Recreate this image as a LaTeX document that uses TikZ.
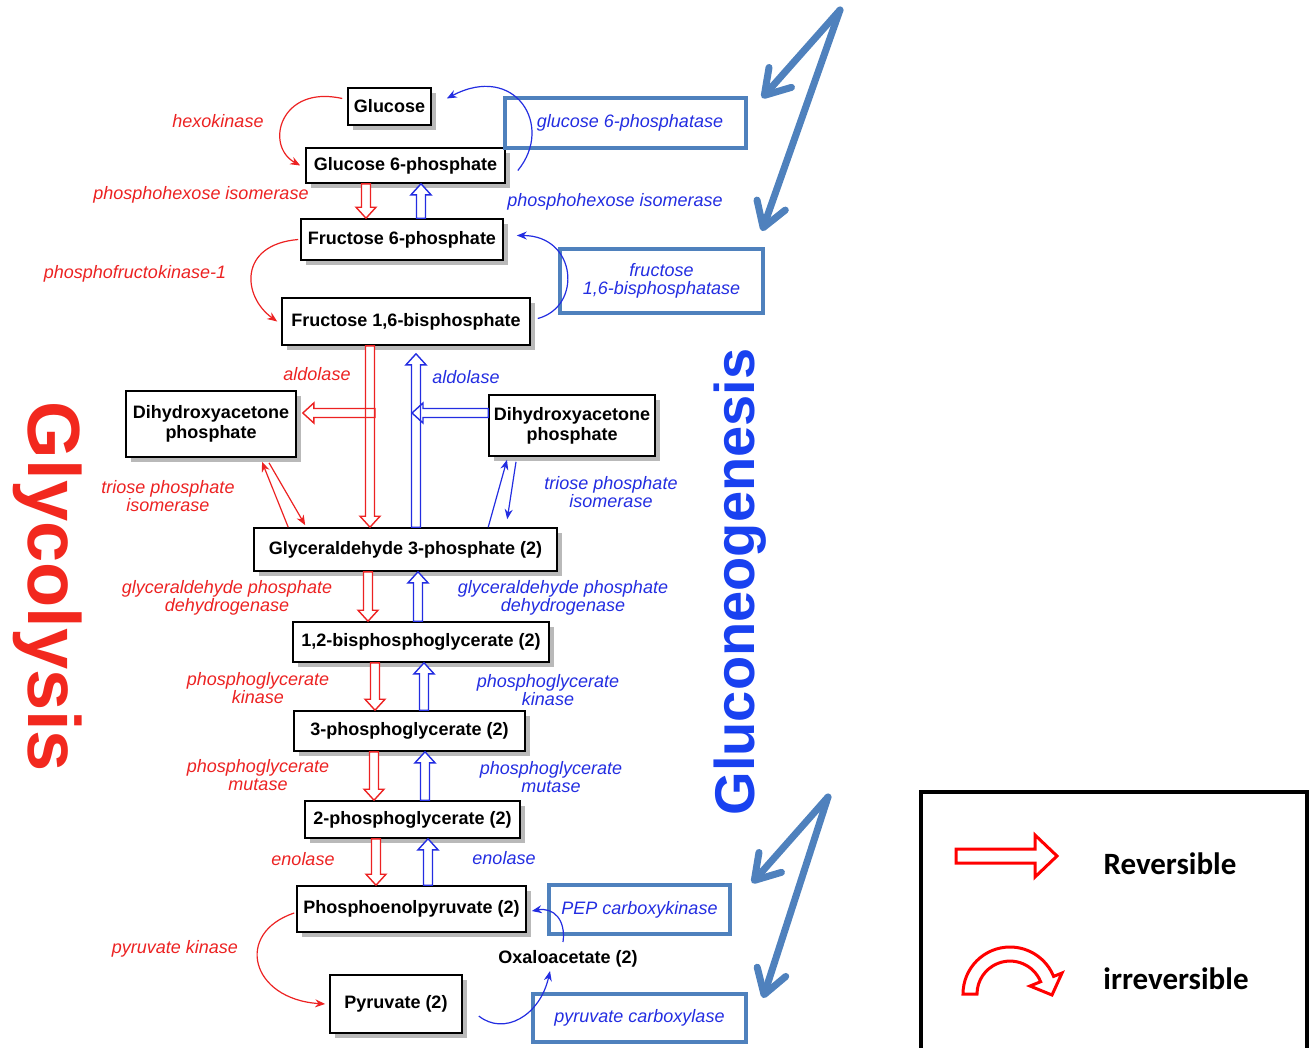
\documentclass[tikz,border=0pt]{standalone}
\usepackage{fontspec}
\setmainfont{Liberation Sans}
\newfontfamily\legendfont{Carlito}
\usetikzlibrary{arrows.meta,shadows,calc}
\definecolor{gred}{RGB}{236,34,34}
\definecolor{gblue}{RGB}{35,45,225}
\definecolor{steel}{RGB}{79,129,189}
\definecolor{titlered}{RGB}{242,40,30}
\definecolor{titleblue}{RGB}{25,65,240}
\definecolor{legred}{RGB}{255,0,0}

% vertical hollow block arrow: style, from, to
\newcommand{\vblk}[3]{%
  \draw[#1] let \p1=#2, \p2=#3, \n1={sign(\y1-\y2)} in
    (\x1-4.5pt,\y1) -- (\x1-4.5pt,{\y2+\n1*11pt}) -- (\x1-10pt,{\y2+\n1*11pt})
    -- (\x1,\y2) -- (\x1+10pt,{\y2+\n1*11pt}) -- (\x1+4.5pt,{\y2+\n1*11pt})
    -- (\x1+4.5pt,\y1) -- cycle;}
% horizontal hollow block arrow: style, from, to
\newcommand{\hblk}[3]{%
  \draw[#1] let \p1=#2, \p2=#3, \n1={sign(\x1-\x2)} in
    (\x1,\y1-4.5pt) -- ({\x2+\n1*11pt},\y1-4.5pt) -- ({\x2+\n1*11pt},\y1-10pt)
    -- (\x2,\y1) -- ({\x2+\n1*11pt},\y1+10pt) -- ({\x2+\n1*11pt},\y1+4.5pt)
    -- (\x1,\y1+4.5pt) -- cycle;}

\tikzset{
  box/.style={draw, line width=1.6pt, fill=white, inner sep=2pt, align=center,
    font=\bfseries\fontsize{18}{20}\selectfont,
    drop shadow={shadow xshift=5pt, shadow yshift=-5pt, fill=gray!55, opacity=1}},
  enzR/.style={text=gred, inner sep=0pt, align=center, font=\itshape\fontsize{18}{18.5}\selectfont},
  enzB/.style={text=gblue, inner sep=0pt, align=center, font=\itshape\fontsize{18}{18.5}\selectfont},
  ebox/.style={draw=steel, line width=4pt, inner sep=0pt, text=gblue, align=center,
    font=\itshape\fontsize{18}{18.5}\selectfont},
  revR/.style={draw=gred, line width=1.4pt, fill=white},
  revB/.style={draw=gblue, line width=1.4pt, fill=white},
  revRn/.style={draw=gred, line width=1.4pt},
  revBn/.style={draw=gblue, line width=1.4pt},
  irrR/.style={draw=gred, line width=1.2pt, -{Stealth[length=10pt,width=8pt]}},
  irrB/.style={draw=gblue, line width=1.2pt, -{Stealth[length=10pt,width=8pt]}},
  bigarr/.style={draw=steel, line width=7pt, line cap=round,
    -{Straight Barb[length=24pt,width=30pt,round]}},
  legtext/.style={font=\legendfont\bfseries\fontsize{31}{34}\selectfont, inner sep=0pt}
}

\begin{document}
\begin{tikzpicture}[x=1pt,y=-1pt]
\useasboundingbox (0,0) rectangle (1311,1047);

% titles
\node[text=titlered, rotate=-90, font=\bfseries\fontsize{74}{80}\selectfont] (glyco) at (48,587) {Glycolysis};
\node[text=titleblue, rotate=90, font=\bfseries\fontsize{56}{60}\selectfont] (gluco) at (740,582) {Gluconeogenesis};

% metabolite boxes
\node[box, minimum width=83pt, minimum height=37pt] (glc) at (389.5,106.5) {Glucose};
\node[box, minimum width=199pt, minimum height=35pt] (g6p) at (405.5,165.5) {Glucose 6-phosphate};
\node[box, minimum width=202pt, minimum height=41pt] (f6p) at (402,239.5) {Fructose 6-phosphate};
\node[box, minimum width=248pt, minimum height=47pt] (fbp) at (406,321.5) {Fructose 1,6-bisphosphate};
\node[box, minimum width=170pt, minimum height=66pt] (dhapL) at (211,424) {Dihydroxyacetone\\phosphate};
\node[box, minimum width=166pt, minimum height=61pt] (dhapR) at (572,425.5) {Dihydroxyacetone\\phosphate};
\node[box, minimum width=303pt, minimum height=43pt] (gap) at (405.5,549.5) {Glyceraldehyde 3-phosphate (2)};
\node[box, minimum width=256pt, minimum height=40pt] (bpg) at (421,642) {1,2-bisphosphoglycerate (2)};
\node[box, minimum width=231pt, minimum height=40pt] (pg3) at (409.5,731) {3-phosphoglycerate (2)};
\node[box, minimum width=215pt, minimum height=37pt] (pg2) at (412.5,819.5) {2-phosphoglycerate (2)};
\node[box, minimum width=229pt, minimum height=46pt] (pep) at (411.5,909) {Phosphoenolpyruvate (2)};
\node[box, minimum width=132pt, minimum height=58pt] (pyr) at (396,1004) {Pyruvate (2)};
\node[inner sep=2pt, font=\bfseries\fontsize{18}{20}\selectfont] (oaa) at (568,959) {Oxaloacetate (2)};

% enzyme boxes (gluconeogenesis-specific)
\node[ebox, minimum width=241pt, minimum height=50pt] (g6pase) at (625.5,123) {\hspace*{9pt}\raisebox{-3pt}{glucose 6-phosphatase}};
\node[ebox, minimum width=203pt, minimum height=64pt] (fbpase) at (661.5,281) {fructose\\1,6-bisphosphatase};
\node[ebox, minimum width=181pt, minimum height=49pt] (pepck) at (639.5,909.5) {PEP carboxykinase};
\node[ebox, minimum width=213pt, minimum height=48pt] (pc) at (639.5,1018) {pyruvate carboxylase};

% red enzyme labels
\node[enzR] (l1) at (218,121) {hexokinase};
\node[enzR] (l2) at (201,195) {phosphohexose isomerase};
\node[enzR] (l3) at (135,274) {phosphofructokinase-1};
\node[enzR] (l4) at (317,374) {aldolase};
\node[enzR] (l5) at (168,496) {triose phosphate\\isomerase};
\node[enzR] (l6) at (227,598) {glyceraldehyde phosphate\\dehydrogenase};
\node[enzR] (l7) at (258,688) {phosphoglycerate\\kinase};
\node[enzR] (l8) at (258,775) {phosphoglycerate\\mutase};
\node[enzR] (l9) at (303,859) {enolase};
\node[enzR] (l10) at (175,949) {pyruvate kinase};
% blue enzyme labels
\node[enzB] (m2) at (615,202) {phosphohexose isomerase};
\node[enzB] (m4) at (466,377) {aldolase};
\node[enzB] (m5) at (611,492) {triose phosphate\\isomerase};
\node[enzB] (m6) at (563,598) {glyceraldehyde phosphate\\dehydrogenase};
\node[enzB] (m7) at (548,690) {phosphoglycerate\\kinase};
\node[enzB] (m8) at (551,777) {phosphoglycerate\\mutase};
\node[enzB] (m9) at (504,858) {enolase};

% arrow columns
\coordinate (r1) at (366,0); \coordinate (b1) at (421,0);
\coordinate (r2) at (370,0); \coordinate (b2) at (416,0);
\coordinate (r3) at (368,0); \coordinate (b3) at (418,0);
\coordinate (r4) at (375,0); \coordinate (b4) at (424,0);
\coordinate (r5) at (374,0); \coordinate (b5) at (425,0);
\coordinate (r6) at (376,0); \coordinate (b6) at (428,0);
\coordinate (br) at (375,413);
\coordinate (bb) at (0,413);
\path (dhapL.east |- br) ++(6,0) coordinate (brtip);
\path (b2 |- bb) ++(-4,0) coordinate (bbtip);
\path (fbp.south -| b2) ++(0,8) coordinate (b2top);

% reversible block arrows
\vblk{revR}{(g6p.south -| r1)}{(f6p.north -| r1)}
\vblk{revB}{(f6p.north -| b1)}{(g6p.south -| b1)}
\vblk{revR}{(fbp.south -| r2)}{(gap.north -| r2)}
\vblk{revB}{(gap.north -| b2)}{(b2top)}
\hblk{revRn}{(br)}{(brtip)}
\hblk{revBn}{(dhapR.west |- bb)}{(bbtip)}
\vblk{revR}{(gap.south -| r3)}{(bpg.north -| r3)}
\vblk{revB}{(bpg.north -| b3)}{(gap.south -| b3)}
\vblk{revR}{(bpg.south -| r4)}{(pg3.north -| r4)}
\vblk{revB}{(pg3.north -| b4)}{(bpg.south -| b4)}
\vblk{revR}{(pg3.south -| r5)}{(pg2.north -| r5)}
\vblk{revB}{(pg2.north -| b5)}{(pg3.south -| b5)}
\vblk{revR}{(pg2.south -| r6)}{(pep.north -| r6)}
\vblk{revB}{(pep.north -| b6)}{(pg2.south -| b6)}

% irreversible curved arrows
\draw[irrR] ([xshift=-5pt,yshift=8pt]glc.west) .. controls +(-62,-14) and +(-36,-20) .. ([xshift=-5pt]g6p.west);
\draw[irrR] ([xshift=-2pt]f6p.west) .. controls +(-60,5) and +(-35,-25) .. ([xshift=-4pt]fbp.west);
\draw[irrR] ([xshift=-2pt,yshift=-4pt]pep.west) .. controls +(-60,20) and +(-75,-5) .. ([xshift=-4pt]pyr.west);
\draw[irrB] ([xshift=12pt,yshift=-5pt]g6p.east) .. controls +(37,-45) and +(68,-36) .. ([xshift=15pt,yshift=8pt]glc.east);
\draw[irrB] ([xshift=7pt,yshift=3pt]fbp.east) .. controls +(45,-12) and +(60,0) .. ([xshift=13pt,yshift=4pt]f6p.east);
\draw[irrB] ([xshift=-5pt,yshift=17pt]oaa.center) .. controls +(3,-22) and +(22,-4) .. ([xshift=5pt,yshift=-2pt]pep.east);
\draw[irrB] ([xshift=16pt,yshift=-12pt]pyr.east) .. controls +(25,20) and +(-10,45) .. ([xshift=-18pt,yshift=-12pt]oaa.center);

% triose phosphate isomerase
\draw[irrR] ([xshift=35pt]gap.north west) -- ([xshift=51pt,yshift=-4pt]dhapL.south);
\draw[irrR] ([xshift=58pt,yshift=-5pt]dhapL.south) -- ([xshift=52pt,yshift=2pt]gap.north west);
\draw[irrB] ([xshift=235pt]gap.north west) -- ([xshift=-65pt,yshift=-3pt]dhapR.south);
\draw[irrB] ([xshift=-56pt,yshift=-5pt]dhapR.south) -- ([xshift=254pt,yshift=8pt]gap.north west);

% big pointer arrows
\coordinate (pt1) at (840,10);
\coordinate (pt2) at (828,797);
\draw[bigarr] (pt1) -- (762,98);
\draw[bigarr] (pt1) -- (762,231);
\draw[bigarr] (pt2) -- (752,883);
\draw[bigarr] (pt2) -- (763,998);

% legend
\draw[line width=3.5pt] (921,1060) -- (921,792) -- (1307,792) -- (1307,1060);
\draw[draw=legred, line width=3pt, fill=white] (956,849) -- (1035,849) -- (1035,835) -- (1057,856)
  -- (1035,877) -- (1035,863) -- (956,863) -- cycle;
\draw[draw=legred, line width=3pt, fill=white, line join=miter]
  (963,994) arc[start angle=180, end angle=22, radius=47pt] -- (1062,973) -- (1052,995) -- (1030,986)
  -- ++(10.6,-4.3) arc[start angle=22, end angle=180, radius=33pt] -- cycle;
\node[legtext] (rev) at (1170,864) {Reversible};
\node[legtext] (irr) at (1176,979) {irreversible};
\end{tikzpicture}
\end{document}
